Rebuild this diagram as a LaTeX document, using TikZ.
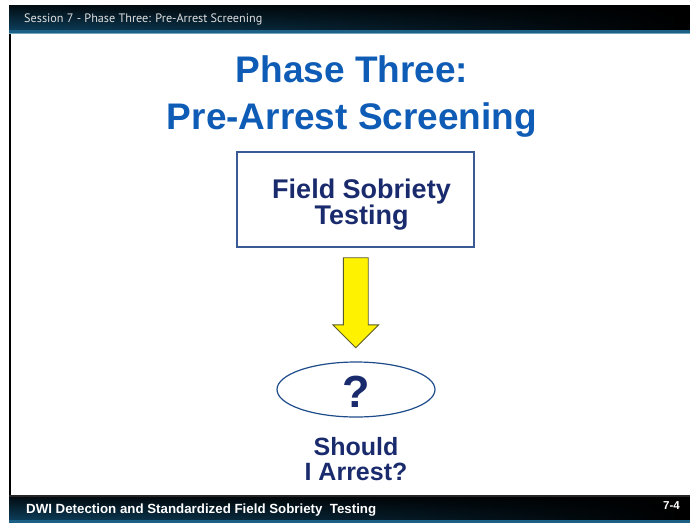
\documentclass[tikz,border=0pt]{standalone}
\usepackage{fontspec}
\setmainfont{Liberation Sans}
\newfontfamily\barfont{PT Sans}
\usetikzlibrary{positioning}
\usetikzlibrary{calc,arrows.meta}
\usetikzlibrary{shapes.geometric,shapes.arrows,fadings}
\definecolor{sl-title}{HTML}{0E5CB5}
\definecolor{sl-navy}{HTML}{1A2B6D}
\definecolor{sl-frame}{HTML}{3A5A95}
\definecolor{sl-ring}{HTML}{1E4C8A}
\definecolor{sl-teal}{HTML}{0D3F5C}
\definecolor{sl-glow}{HTML}{1396CC}
\definecolor{sl-band}{HTML}{1D6085}
\definecolor{sl-edge}{HTML}{6FA6C2}
\definecolor{sl-olive}{HTML}{5A5A2A}
\tikzfading[name=bartopdark, top color=transparent!0, bottom color=transparent!100]

\begin{document}
\begin{tikzpicture}[
    x=1pt, y=-1pt, % one unit per pixel of the slide, origin top left
    font=\bfseries,
    >=latex
  ]

  % Global Style Definitions for the slide
  \tikzset{
    barshade/.style={left color=sl-teal, middle color=sl-glow, right color=black},
    titletext/.style={text=sl-title, align=center, inner sep=0pt, font=\fontsize{37}{47}\selectfont\bfseries},
    fstbox/.style={draw=sl-frame, line width=1.5pt, minimum width=237pt, minimum height=95pt},
    fsttext/.style={text=sl-navy, align=center, inner sep=0pt, font=\fontsize{27}{24}\selectfont\bfseries},
    askring/.style={ellipse, draw=sl-ring, line width=1.2pt, minimum width=158pt, minimum height=55pt, inner sep=0pt, text=sl-navy, text height=36pt, text depth=0pt, font=\fontsize{45}{45}\selectfont\bfseries},
    bigarrow/.style={single arrow, draw=sl-olive, line width=0.8pt, fill=yellow, shape border rotate=270, minimum height=90pt, minimum width=45pt, single arrow head extend=10.5pt, inner sep=12pt},
    asktext/.style={text=sl-navy, align=center, inner sep=0pt, font=\fontsize{25}{25}\selectfont\bfseries}
  }

  \useasboundingbox (0,0) rectangle (690,523);

  % Header and footer bars
  \shade[barshade] (9,5) rectangle (690,30);
  \fill[black, opacity=0.8, path fading=bartopdark] (9,5) rectangle (690,30);
  \fill[sl-band] (9,30) rectangle (690,33);
  \fill[sl-edge] (9,33) rectangle (690,34);
  \fill[black] (9,34) rectangle (11,495);
  \fill[black!85] (9,495) rectangle (690,497);
  \shade[barshade] (9,497) rectangle (690,520);
  \fill[black, opacity=0.8, path fading=bartopdark] (9,497) rectangle (690,520);
  \fill[sl-band] (9,520) rectangle (690,523);

  \node (session) [anchor=west, text=black!12, inner sep=0pt, font=\barfont\fontsize{12.2}{13}\selectfont] at (24,19) {Session 7 - Phase Three: Pre-Arrest Screening};
  \node (course) [anchor=west, text=white, inner sep=0pt, font=\fontsize{13.3}{14}\selectfont\bfseries] at (26,510) {DWI Detection and Standardized Field Sobriety\ \ Testing};
  \node (page) [anchor=east, text=white, inner sep=0pt, font=\fontsize{11.5}{12}\selectfont\bfseries] at (680,506) {7-4};

  % Slide body
  \node (title) [titletext] at (352,97) {Phase Three:\\Pre-Arrest Screening};
  \node (fst) [fstbox] at (355.5,199.5) {};
  \node (fstlabel) [fsttext] at ($(fst.center)+(6,5)$) {Field Sobriety\\Testing};
  \node (ask) [askring] at (356,389.5) {?};
  \node (should) [asktext, below=20pt of ask] {Should\\I Arrest?};

  % Yellow block arrow between the box and the question
  \path (fst.south) -- node (down) [bigarrow, pos=0.5, yshift=8pt] {} (ask.north);

\end{tikzpicture}
\end{document}
